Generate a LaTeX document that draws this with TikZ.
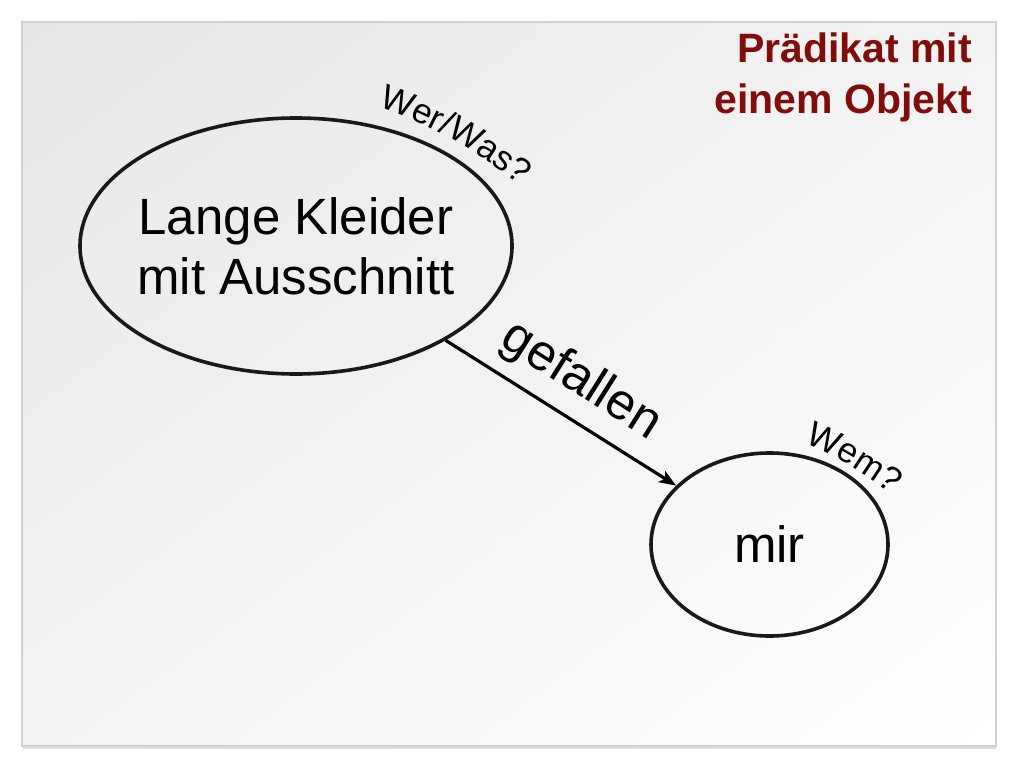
\documentclass[tikz,border=0pt]{standalone}
\usepackage{fontspec}
\setmainfont{Liberation Sans}
\usetikzlibrary{shapes.geometric,arrows.meta,decorations.text,shadings}
\definecolor{titlered}{RGB}{128,12,12}
\definecolor{bgA}{RGB}{231,231,231}
\definecolor{bgB}{RGB}{243,243,243}
\definecolor{framecol}{RGB}{210,210,210}
\definecolor{inkcol}{RGB}{25,25,25}
\tikzset{
  bubble/.style={ellipse, draw=inkcol, line width=3.6pt, inner sep=0pt, inner xsep=-10pt, align=center,
    font=\fontsize{51}{60}\selectfont},
  arrowline/.style={draw=black, line width=3.2pt, -{Stealth[length=17pt,width=13pt,inset=4pt]}},
  biglabel/.style={font=\fontsize{51}{60}\selectfont, inner sep=0pt},
  titletext/.style={font=\bfseries\fontsize{41}{51}\selectfont, text=titlered, align=right, inner sep=0pt},
}
\newcommand{\qfont}{\fontsize{35}{35}\selectfont}
\begin{document}
\begin{tikzpicture}[x=1pt,y=-1pt]
\useasboundingbox (0,0) rectangle (1024,768);
\fill[white] (0,0) rectangle (1024,768);
% slide background and frame
\shade[upper left=bgA, upper right=bgB, lower left=bgB, lower right=white] (22,22) rectangle (996,746);
\draw[framecol!70, line width=2.5pt] (23,747.5) -- (996,747.5);
\draw[framecol, line width=1.4pt] (22,22) rectangle (996,746);
% title
\node[titletext, anchor=north east] (title) at (972,33) {Prädikat mit\\einem Objekt};
% nodes
\node[bubble, minimum width=432pt, minimum height=256pt] (e) at (296,246) {Lange Kleider\\mit Ausschnitt};
\node[bubble, minimum width=237pt, minimum height=183pt] (m) at (769.5,544.5) {mir};
% connector
\draw[arrowline] (e) -- (m) node[biglabel, midway, sloped, above=12pt] (verb) {gefallen};
% question labels along arcs
\path[decorate, decoration={text along path, text={|\qfont|Wer/Was?}, text align=center}]
  (370,104) .. controls (418,118) and (478,150) .. (527,191);
\path[decorate, decoration={text along path, text={|\qfont|Wem?}, text align=center}]
  (793,438) .. controls (830,452) and (865,472) .. (900,502);
\end{tikzpicture}
\end{document}
